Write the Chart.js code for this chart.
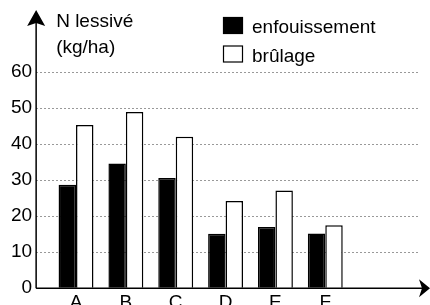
<!DOCTYPE html>
<html>
<head>
<meta charset="utf-8">
<script src="https://cdn.jsdelivr.net/npm/chart.js@4"></script>
<style>
  html, body { margin: 0; padding: 0; background: #fff; overflow: hidden; }
  #wrap { width: 430px; height: 305px; overflow: hidden; position: relative; }
  #box { width: 430px; height: 320px; }
</style>
</head>
<body>
<div id="wrap"><div id="box"><canvas id="c"></canvas></div></div>
<script>
"use strict";

const categories = ["A", "B", "C", "D", "E", "F"];
const enfouissement = [28.7, 34.6, 30.6, 15.1, 17.0, 15.2];
const brulage = [45.3, 48.9, 42.0, 24.2, 27.1, 17.5];
const yTicks = [0, 10, 20, 30, 40, 50, 60];
const yTitle = ["N lessivé", "(kg/ha)"];

const FONT = "'Liberation Sans', Arial, sans-serif";
Chart.defaults.font.family = FONT;
Chart.defaults.font.size = 19;
Chart.defaults.color = "#000";

const pts = (arr) => arr.map((v, i) => ({ x: i, y: v }));

// axes with arrowheads, drawn over the bars
const axisArrows = {
  id: "axisArrows",
  afterDraw(chart) {
    const { ctx, chartArea: a, width } = chart;
    ctx.save();
    ctx.strokeStyle = "#000";
    ctx.fillStyle = "#000";
    ctx.lineWidth = 1.5;
    ctx.beginPath();
    ctx.moveTo(a.left, a.bottom);
    ctx.lineTo(a.left, 22);
    ctx.moveTo(a.left, a.bottom);
    ctx.lineTo(width - 8, a.bottom);
    ctx.stroke();
    ctx.beginPath();
    ctx.moveTo(a.left, 10);
    ctx.lineTo(a.left - 9, 26);
    ctx.lineTo(a.left, 23);
    ctx.lineTo(a.left + 9, 26);
    ctx.closePath();
    ctx.fill();
    ctx.beginPath();
    ctx.moveTo(width, a.bottom);
    ctx.lineTo(width - 11, a.bottom - 9);
    ctx.lineTo(width - 8, a.bottom);
    ctx.lineTo(width - 11, a.bottom + 9);
    ctx.closePath();
    ctx.fill();
    ctx.restore();
  },
};

// axis title and legend in the top-left / top-middle
const labels = {
  id: "labels",
  afterDraw(chart) {
    const { ctx, chartArea: a } = chart;
    ctx.save();
    ctx.font = "19px " + FONT;
    ctx.fillStyle = "#000";
    ctx.textBaseline = "alphabetic";
    ctx.fillText(yTitle[0], a.left + 20, 27);
    ctx.fillText(yTitle[1], a.left + 20, 53);
    chart.data.datasets.forEach((ds, i) => {
      const y = 17 + i * 28.5;
      ctx.fillStyle = ds.backgroundColor;
      ctx.fillRect(223, y, 20, 17);
      ctx.strokeStyle = "#000";
      ctx.lineWidth = 1.2;
      ctx.strokeRect(223.5, y + 0.5, 19, 16);
      ctx.fillStyle = "#000";
      ctx.fillText(ds.label, 252, y + 16);
    });
    ctx.restore();
  },
};

new Chart(document.getElementById("c"), {
  type: "bar",
  data: {
    datasets: [
      { label: "enfouissement", data: pts(enfouissement), backgroundColor: "#000", borderColor: "#000", borderWidth: 1.5 },
      { label: "brûlage", data: pts(brulage), backgroundColor: "#fff", borderColor: "#000", borderWidth: 1.5 },
    ],
  },
  options: {
    responsive: true,
    maintainAspectRatio: false,
    animation: false,
    layout: { padding: { top: 72, left: 7, right: 10, bottom: 3 } },
    datasets: { bar: { categoryPercentage: 0.7, barPercentage: 1.0 } },
    scales: {
      x: {
        type: "linear",
        min: -0.8,
        max: 6.9,
        offset: false,
        grid: { display: false, drawTicks: false },
        border: { display: false },
        afterBuildTicks: (s) => { s.ticks = categories.map((_, i) => ({ value: i })); },
        ticks: { padding: 3, callback: (v) => categories[v] },
      },
      y: {
        min: 0,
        max: 60,
        grid: { color: "#999", drawTicks: false },
        border: { display: false, dash: [2, 2] },
        afterBuildTicks: (s) => { s.ticks = yTicks.map((v) => ({ value: v })); },
        ticks: { padding: 4 },
      },
    },
    plugins: { legend: { display: false }, tooltip: { enabled: false } },
  },
  plugins: [axisArrows, labels],
});
</script>
</body>
</html>
